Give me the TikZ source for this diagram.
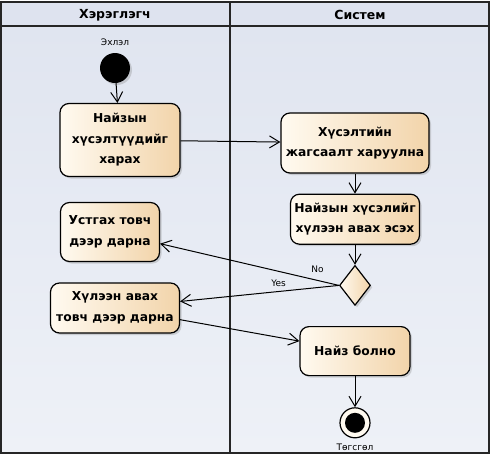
\documentclass[tikz,border=0pt]{standalone}
\usepackage{fontspec}
\setmainfont{DejaVu Sans}
\usetikzlibrary{positioning,arrows.meta,shapes.geometric,shadows}
\definecolor{lanebg}{RGB}{224,229,240}
\definecolor{lanebot}{RGB}{238,241,247}
\definecolor{headbg}{RGB}{222,227,239}
\definecolor{actlight}{RGB}{255,250,240}
\definecolor{actdark}{RGB}{242,212,170}
\tikzset{
>={Straight Barb[length=10pt,width=12pt]},
  actnode/.style={
    rectangle,
    rounded corners=9pt,
    left color=actlight,
    right color=actdark,
    draw=black, line width=1.2pt,
    align=center,
    font=\bfseries\fontsize{12.3}{20.5}\selectfont,
    drop shadow={shadow xshift=2pt,shadow yshift=-2pt,opacity=0.3}},
  line/.style={draw, line width=1pt, ->},
  smalllabel/.style={font=\fontsize{9}{10}\selectfont},
}

\begin{document}
\begin{tikzpicture}
[
x=1pt, y=-1pt,
startnode/.style={circle, fill=black, minimum size=30pt, inner sep=0pt,
  drop shadow={shadow xshift=2pt,shadow yshift=-2pt,opacity=0.3}},
endnode/.style={circle, draw=black, line width=1.2pt, fill=actlight, minimum size=30pt, inner sep=0pt},
decnode/.style={diamond, draw=black, line width=1.2pt, left color=actlight, right color=actdark,
  minimum width=31pt, minimum height=40pt, inner sep=0pt,
  drop shadow={shadow xshift=2pt,shadow yshift=-2pt,opacity=0.3}},
]
\useasboundingbox (0,0) rectangle (493,459);

%Lanes
\shade[top color=lanebg, bottom color=lanebot] (1,26) rectangle (489,453);
\fill[headbg] (1,2) rectangle (489,26);
\draw[line width=1.3pt, black!85] (1,2) rectangle (489,453);
\draw[line width=1.3pt, black!85] (1,26) -- (489,26);
\draw[line width=1.3pt, black!85] (230,2) -- (230,453);
\node[font=\bfseries\fontsize{12.5}{14}\selectfont] (user)   at (115,15) {Хэрэглэгч};
\node[font=\bfseries\fontsize{12.5}{14}\selectfont] (system) at (360,15) {Систем};

%Nodes
\node[startnode]  (start)     at (115,68) {};
\node[smalllabel] (startlbl)  [above=4pt of start] {Эхлэл};
\node[actnode, minimum width=120pt, minimum height=73pt] (viewreq) at (120,140)
  {Найзын\\хүсэлтүүдийг\\харах};
\node[actnode, minimum width=148pt, minimum height=60pt] (showlist) at (355,143)
  {Хүсэлтийн\\жагсаалт харуулна};
\node[actnode, minimum width=129pt, minimum height=50pt] (ask) [below=20pt of showlist]
  {Найзын хүсэлийг\\хүлээн авах эсэх};
\node[decnode] (choice) [below=20pt of ask] {};
\node[actnode, minimum width=99pt, minimum height=59pt] (delete) at (110,232)
  {Устгах товч\\дээр дарна};
\node[actnode, minimum width=129pt, minimum height=50pt] (accept) at (115,308)
  {Хүлээн авах\\товч дээр дарна};
\node[actnode, minimum width=110pt, minimum height=49pt] (friend) [below=20pt of choice]
  {Найз болно};
\node[endnode] (stop) [below=31pt of friend] {};
\fill (stop.center) circle (10pt);
\node[smalllabel] (stoplbl) [below=2pt of stop] {Төгсгөл};

%Lines
\draw[line] (start) -- (viewreq);
\draw[line] (viewreq) -- (showlist);
\draw[line] (showlist) -- (ask);
\draw[line] (ask) -- (choice);
\draw[line] (choice.west) -- node[smalllabel, pos=0.12, above=4pt] {No} (delete);
\draw[line] (choice.west) -- node[smalllabel, pos=0.38, above=1pt] {Yes} (accept);
\draw[line] (accept) -- (friend);
\draw[line] (friend) -- (stop);

\end{tikzpicture}
\end{document}
